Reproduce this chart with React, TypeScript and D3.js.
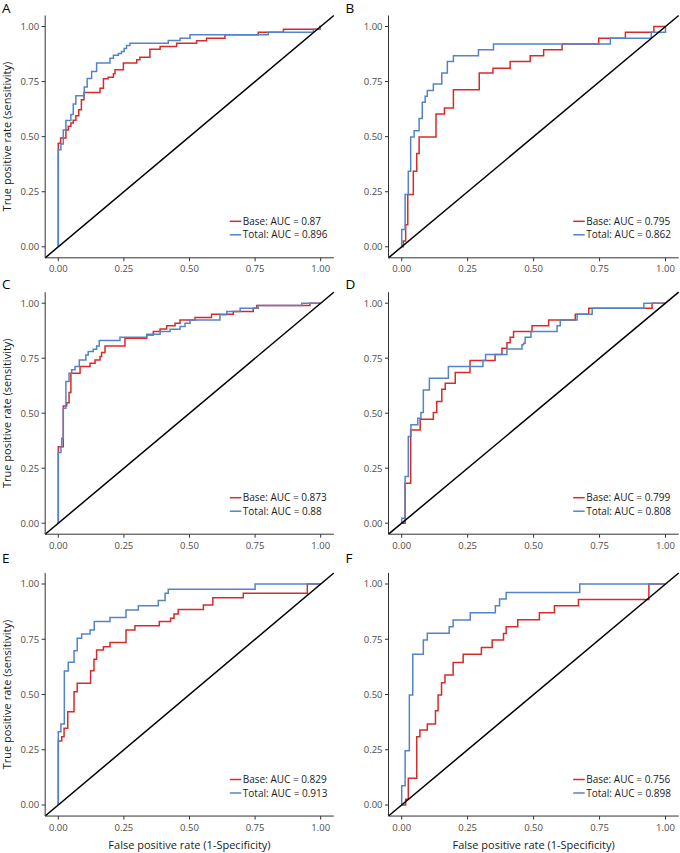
import React from 'react';
import * as d3 from 'd3';

const tickValues = [0, 0.25, 0.5, 0.75, 1];
const tickLabels = ['0.00', '0.25', '0.50', '0.75', '1.00'];
const panelLetters = ['A', 'B', 'C', 'D', 'E', 'F'];
const seriesNames = ['Base', 'Total'];
const aucBase = [0.87, 0.795, 0.873, 0.799, 0.829, 0.756];
const aucTotal = [0.896, 0.862, 0.88, 0.808, 0.913, 0.898];
const xTitle = 'False positive rate (1-Specificity)';
const yTitle = 'True positive rate (sensitivity)';

// ROC step vertices [FPR, TPR]
const rocBaseA: [number, number][] = [[0,0],[0,0.47],[0.009,0.494],[0.029,0.53],[0.038,0.547],[0.048,0.562],[0.057,0.574],[0.067,0.595],[0.078,0.622],[0.088,0.668],[0.098,0.70],[0.159,0.72],[0.172,0.763],[0.19,0.77],[0.21,0.785],[0.216,0.804],[0.248,0.834],[0.299,0.849],[0.311,0.86],[0.349,0.897],[0.388,0.909],[0.451,0.924],[0.527,0.935],[0.565,0.947],[0.635,0.962],[0.762,0.974],[0.858,0.988],[0.997,1],[1,1]];
const rocTotalA: [number, number][] = [[0,0],[0,0.44],[0.01,0.467],[0.019,0.53],[0.029,0.573],[0.048,0.60],[0.057,0.648],[0.067,0.686],[0.099,0.725],[0.11,0.764],[0.127,0.796],[0.146,0.834],[0.197,0.856],[0.21,0.87],[0.229,0.878],[0.241,0.887],[0.251,0.90],[0.26,0.914],[0.273,0.924],[0.419,0.937],[0.464,0.947],[0.502,0.962],[0.80,0.974],[0.972,0.988],[0.997,1],[1,1]];
const rocBaseB: [number, number][] = [[0,0],[0.006,0.026],[0.015,0.10],[0.023,0.237],[0.044,0.343],[0.057,0.423],[0.066,0.498],[0.13,0.603],[0.162,0.63],[0.196,0.713],[0.294,0.789],[0.346,0.811],[0.411,0.841],[0.487,0.867],[0.538,0.894],[0.608,0.921],[0.747,0.947],[0.848,0.974],[0.956,1],[1,1]];
const rocTotalB: [number, number][] = [[0,0],[0,0.079],[0.013,0.237],[0.025,0.343],[0.034,0.498],[0.047,0.527],[0.066,0.582],[0.078,0.656],[0.089,0.683],[0.097,0.71],[0.12,0.739],[0.152,0.789],[0.173,0.841],[0.196,0.867],[0.291,0.894],[0.348,0.921],[0.791,0.947],[0.946,0.974],[1,1]];
const rocBaseC: [number, number][] = [[0,0],[0,0.348],[0.019,0.533],[0.032,0.548],[0.041,0.594],[0.048,0.682],[0.083,0.712],[0.121,0.727],[0.14,0.742],[0.159,0.758],[0.165,0.776],[0.178,0.806],[0.254,0.841],[0.337,0.856],[0.362,0.871],[0.388,0.883],[0.413,0.897],[0.445,0.909],[0.464,0.924],[0.521,0.935],[0.584,0.95],[0.667,0.962],[0.743,0.977],[0.756,0.989],[0.959,1],[1,1]];
const rocTotalC: [number, number][] = [[0,0],[0,0.321],[0.01,0.348],[0.013,0.386],[0.019,0.523],[0.029,0.644],[0.041,0.682],[0.051,0.697],[0.064,0.712],[0.08,0.742],[0.105,0.765],[0.114,0.78],[0.133,0.791],[0.146,0.806],[0.156,0.83],[0.235,0.845],[0.337,0.859],[0.388,0.871],[0.426,0.882],[0.464,0.894],[0.483,0.909],[0.502,0.924],[0.616,0.947],[0.642,0.962],[0.693,0.977],[0.762,0.989],[0.928,1],[1,1]];
const rocBaseD: [number, number][] = [[0,0],[0.013,0.182],[0.034,0.424],[0.07,0.473],[0.12,0.503],[0.133,0.553],[0.152,0.609],[0.165,0.636],[0.203,0.685],[0.259,0.739],[0.354,0.767],[0.38,0.795],[0.399,0.82],[0.411,0.845],[0.424,0.871],[0.494,0.897],[0.557,0.924],[0.658,0.95],[0.709,0.977],[0.949,1],[1,1]];
const rocTotalD: [number, number][] = [[0,0],[0,0.023],[0.013,0.212],[0.025,0.394],[0.035,0.447],[0.061,0.477],[0.073,0.503],[0.082,0.606],[0.105,0.659],[0.177,0.712],[0.308,0.739],[0.318,0.767],[0.399,0.792],[0.456,0.811],[0.462,0.818],[0.468,0.845],[0.49,0.871],[0.589,0.897],[0.601,0.924],[0.665,0.95],[0.722,0.977],[0.918,1],[1,1]];
const rocBaseE: [number, number][] = [[0,0],[0,0.29],[0.013,0.309],[0.022,0.347],[0.036,0.422],[0.06,0.513],[0.072,0.551],[0.123,0.608],[0.136,0.659],[0.146,0.701],[0.172,0.716],[0.197,0.735],[0.258,0.792],[0.292,0.811],[0.385,0.83],[0.428,0.845],[0.441,0.864],[0.457,0.885],[0.553,0.905],[0.589,0.938],[0.705,0.958],[0.949,1],[1,1]];
const rocTotalE: [number, number][] = [[0,0],[0,0.332],[0.01,0.367],[0.023,0.606],[0.038,0.646],[0.06,0.698],[0.072,0.754],[0.089,0.774],[0.121,0.792],[0.137,0.83],[0.197,0.848],[0.258,0.882],[0.305,0.902],[0.381,0.925],[0.407,0.958],[0.419,0.976],[0.75,1],[1,1]];
const rocBaseF: [number, number][] = [[0,0],[0.015,0.026],[0.025,0.121],[0.057,0.309],[0.069,0.339],[0.097,0.367],[0.128,0.427],[0.138,0.498],[0.151,0.553],[0.164,0.588],[0.195,0.645],[0.233,0.682],[0.302,0.713],[0.343,0.747],[0.386,0.776],[0.396,0.807],[0.44,0.838],[0.522,0.87],[0.579,0.902],[0.67,0.93],[0.937,1],[1,1]];
const rocTotalF: [number, number][] = [[0,0],[0,0.087],[0.013,0.246],[0.029,0.498],[0.042,0.682],[0.082,0.747],[0.097,0.777],[0.18,0.807],[0.195,0.837],[0.26,0.87],[0.355,0.902],[0.371,0.932],[0.396,0.961],[0.675,1],[1,1]];

const baseCurves = [rocBaseA, rocBaseB, rocBaseC, rocBaseD, rocBaseE, rocBaseF];
const totalCurves = [rocTotalA, rocTotalB, rocTotalC, rocTotalD, rocTotalE, rocTotalF];

const RED = '#d62b2b';
const BLUE = '#5484c6';
const FONT = '"Open Sans", "Noto Sans", sans-serif';

const cols = [
  { x0: 58.3, x1: 320.7, letterX: 2 },
  { x0: 401.7, x1: 665.5, letterX: 345.5 },
];
const rows = [
  { yTop: 26.5, yBot: 246.8, letterY: 13 },
  { yTop: 303.2, yBot: 523.2, letterY: 288.5 },
  { yTop: 584, yBot: 805, letterY: 562.7 },
];

function Panel({ idx }: { idx: number }) {
  const col = cols[idx % 2];
  const row = rows[Math.floor(idx / 2)];
  const xs = d3.scaleLinear().domain([0, 1]).range([col.x0, col.x1]);
  const ys = d3.scaleLinear().domain([0, 1]).range([row.yBot, row.yTop]);
  const line = d3
    .line<[number, number]>()
    .x((d) => xs(d[0]))
    .y((d) => ys(d[1]))
    .curve(d3.curveStepAfter);
  const left = xs(-0.05);
  const right = xs(1.05);
  const bottom = ys(-0.05);
  const top = ys(1.05);
  const showY = idx % 2 === 0;
  const showX = idx >= 4;
  const legendKeyX = col.x0 + 171.5;
  const legendRows = [row.yBot - 25.5, row.yBot - 12];
  const legendLabels = [
    `${seriesNames[0]}: AUC = ${aucBase[idx]}`,
    `${seriesNames[1]}: AUC = ${aucTotal[idx]}`,
  ];
  const colors = [RED, BLUE];
  return (
    <g>
      <text x={col.letterX} y={row.letterY} fontSize={13.5} fill="#000" fontFamily={FONT}>
        {panelLetters[idx]}
      </text>
      <path d={line(baseCurves[idx]) || ''} fill="none" stroke={RED} strokeWidth={1.5} />
      <path d={line(totalCurves[idx]) || ''} fill="none" stroke={BLUE} strokeWidth={1.5} />
      <line x1={xs(-0.05)} y1={ys(-0.05)} x2={xs(1.05)} y2={ys(1.05)} stroke="#000" strokeWidth={1.5} />
      <line x1={left} y1={top} x2={left} y2={bottom} stroke="#333" strokeWidth={1} />
      <line x1={left} y1={bottom} x2={right} y2={bottom} stroke="#333" strokeWidth={1} />
      {tickValues.map((t, i) => (
        <g key={'y' + i}>
          <line x1={left - 3.5} x2={left} y1={ys(t)} y2={ys(t)} stroke="#333" strokeWidth={1} />
          <text x={left - 6} y={ys(t)} dy="0.35em" textAnchor="end" fontSize={9.5} fill="#4d4d4d" fontFamily={FONT}>
            {tickLabels[i]}
          </text>
        </g>
      ))}
      {tickValues.map((t, i) => (
        <g key={'x' + i}>
          <line x1={xs(t)} x2={xs(t)} y1={bottom} y2={bottom + 3.5} stroke="#333" strokeWidth={1} />
          <text x={xs(t)} y={bottom + 14.5} textAnchor="middle" fontSize={9.5} fill="#4d4d4d" fontFamily={FONT}>
            {tickLabels[i]}
          </text>
        </g>
      ))}
      {showY && (
        <text
          transform={`translate(10.5,${ys(0.5)}) rotate(-90)`}
          textAnchor="middle"
          fontSize={11}
          fill="#1a1a1a"
          fontFamily={FONT}
        >
          {yTitle}
        </text>
      )}
      {showX && (
        <text x={xs(0.5)} y={849} textAnchor="middle" fontSize={11} fill="#1a1a1a" fontFamily={FONT}>
          {xTitle}
        </text>
      )}
      {legendRows.map((ly, i) => (
        <g key={'l' + i}>
          <line x1={legendKeyX} x2={legendKeyX + 11.5} y1={ly} y2={ly} stroke={colors[i]} strokeWidth={1.5} />
          <text x={legendKeyX + 13} y={ly} dy="0.35em" fontSize={10} fill="#1a1a1a" fontFamily={FONT}>
            {legendLabels[i]}
          </text>
        </g>
      ))}
    </g>
  );
}

export default function App() {
  return (
    <svg
      width={680}
      height={853}
      viewBox="0 0 680 853"
      style={{ position: 'absolute', left: 0, top: 0, background: '#fff' }}
    >
      <rect x={0} y={0} width={680} height={853} fill="#fff" />
      {panelLetters.map((_, i) => (
        <Panel key={i} idx={i} />
      ))}
    </svg>
  );
}
